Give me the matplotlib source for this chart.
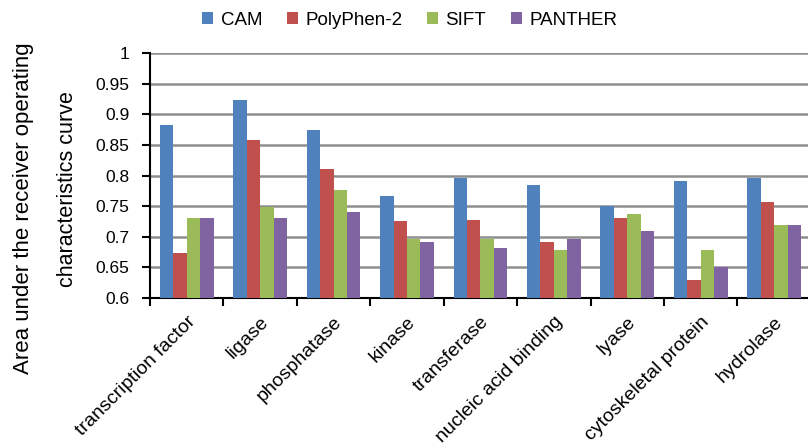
import numpy as np
import matplotlib.pyplot as plt

plt.rcParams['font.family'] = ['Liberation Sans', 'DejaVu Sans']

# AUC per protein class for each predictor
categories = ['transcription factor', 'ligase', 'phosphatase', 'kinase', 'transferase',
              'nucleic acid binding', 'lyase', 'cytoskeletal protein', 'hydrolase']
cam = [0.882, 0.924, 0.875, 0.766, 0.796, 0.784, 0.750, 0.791, 0.796]
polyphen2 = [0.673, 0.858, 0.811, 0.725, 0.727, 0.691, 0.730, 0.630, 0.756]
sift = [0.730, 0.749, 0.777, 0.696, 0.696, 0.679, 0.737, 0.678, 0.720]
panther = [0.730, 0.730, 0.740, 0.691, 0.681, 0.696, 0.710, 0.650, 0.720]

series = [('CAM', cam, '#4F81BD'),
          ('PolyPhen-2', polyphen2, '#C0504D'),
          ('SIFT', sift, '#9BBB59'),
          ('PANTHER', panther, '#8064A2')]

fig = plt.figure(figsize=(8.08, 4.48), dpi=100)
ax = fig.add_axes([0.1856, 0.3348, 0.818, 0.5469])

x = np.arange(len(categories))
w = 0.183
for i, (name, vals, col) in enumerate(series):
    ax.bar(x + (i - 1.5) * w, np.array(vals) - 0.6, bottom=0.6, width=w,
           color=col, label=name, zorder=3)

ax.set_ylim(0.6, 1.0)
ax.set_xlim(-0.5, len(categories) - 0.5)
ax.set_yticks(np.arange(0.6, 1.001, 0.05))
ax.set_yticklabels(['0.6', '0.65', '0.7', '0.75', '0.8', '0.85', '0.9', '0.95', '1'])
ax.yaxis.grid(True, color='#8f8f8f', linewidth=1.8, zorder=0)
ax.set_axisbelow(True)

for s in ['top', 'right']:
    ax.spines[s].set_visible(False)
ax.spines['left'].set_linewidth(1.5)
ax.spines['bottom'].set_linewidth(1.5)

ax.tick_params(axis='y', direction='out', length=6, width=1.5, labelsize=12.5, pad=9)

# ticks on category boundaries, labels at category centres
ax.set_xticks(x)
ax.set_xticklabels(categories, rotation=45, ha='right', va='top',
                   rotation_mode='anchor', fontsize=14)
ax.tick_params(axis='x', which='major', length=0, pad=11)
ax.set_xticks(np.arange(-0.5, len(categories)), minor=True)
ax.tick_params(axis='x', which='minor', direction='out', length=6, width=1.5)

fig.text(0.029, 0.535, 'Area under the receiver operating', rotation=90,
         ha='center', va='center', fontsize=16)
fig.text(0.083, 0.578, 'characteristics curve', rotation=90,
         ha='center', va='center', fontsize=15.5)

ax.legend(loc='center', bbox_to_anchor=(0.507, 0.955), bbox_transform=fig.transFigure,
          ncol=4, frameon=False, fontsize=13.5, handlelength=0.6, handleheight=0.6,
          handletextpad=0.4, columnspacing=1.3)

fig.savefig('out.png', dpi=100)
